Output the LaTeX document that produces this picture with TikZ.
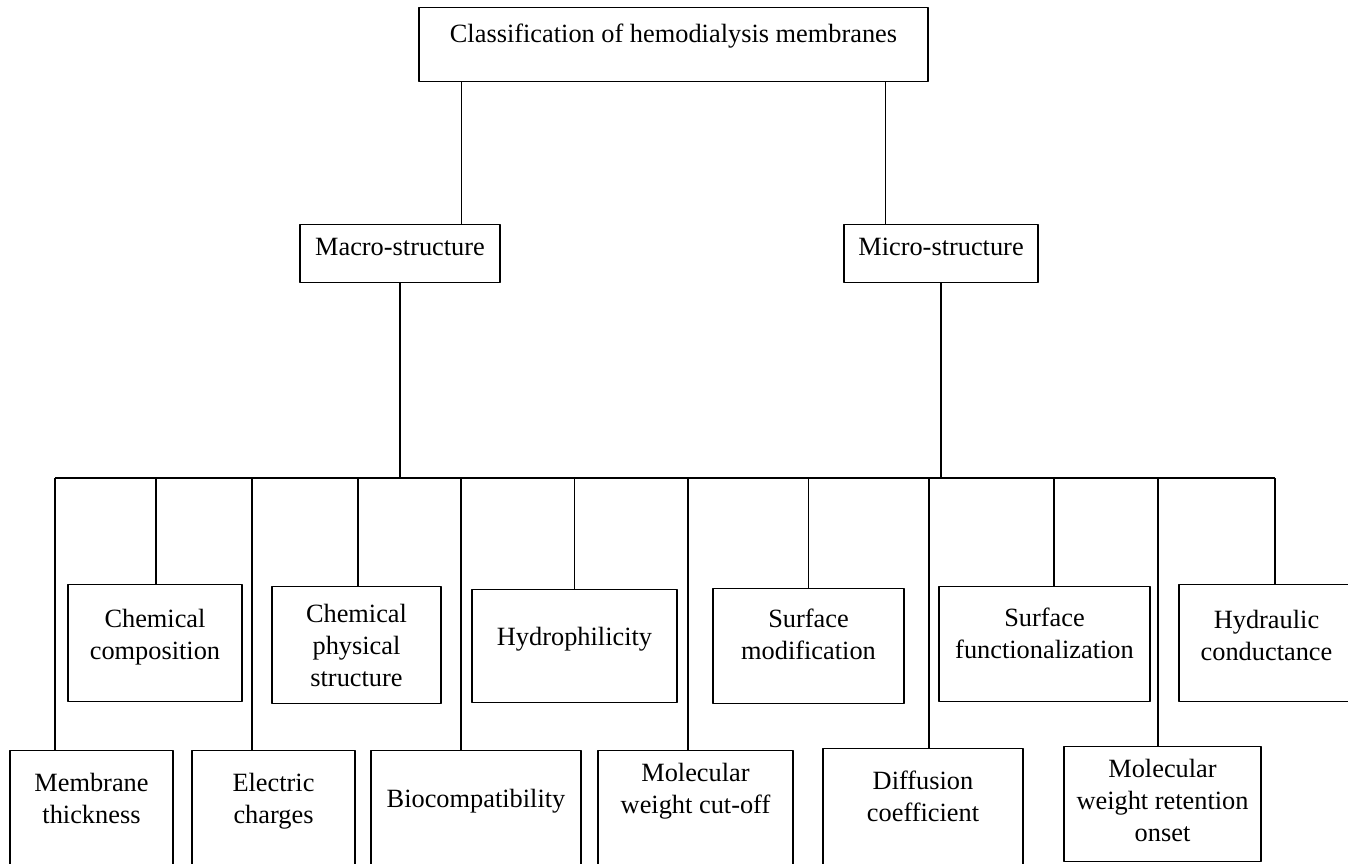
\documentclass[tikz,border=0pt]{standalone}
\usepackage{fontspec}
\setmainfont{Liberation Serif}
\newcommand{\boxfont}{\fontsize{15}{18}\selectfont}
\tikzset{
  box/.style n args={3}{draw, anchor=north, inner sep=0pt, align=center, font=\boxfont,
    minimum width=#1*0.02cm, text height=#3*0.02cm, text depth=(#2-#3)*0.02cm},
}
\begin{document}
\begin{tikzpicture}[x=0.02cm, y=-0.02cm, line width=0.8pt, line join=round]
\useasboundingbox (0,0) rectangle (1348,863);
\node[box={509}{74}{35}] (top) at (673.5,7) {Classification of hemodialysis membranes};
\node[box={200}{58}{31}] (macro) at (400,224) {Macro-structure};
\node[box={194}{58}{31}] (micro) at (941,224) {Micro-structure};
\node[box={174}{117}{74.6}] (cc) at (155,584) {Chemical\\composition};
\node[box={169}{117}{99.3}] (cp) at (356.5,586) {Chemical\\physical\\structure};
\node[box={205}{113}{56}] (hy) at (574.5,589) {Hydrophilicity};
\node[box={191}{115}{70.6}] (sm) at (808.5,588) {Surface\\modification};
\node[box={211}{115}{71.6}] (sf) at (1044.5,586) {Surface\\functionalization};
\node[box={175}{117}{75.6}] (hc) at (1266.5,584) {Hydraulic\\conductance};
\node[box={163}{140}{72.6}] (mt) at (91.5,750) {Membrane\\thickness};
\node[box={163}{140}{72.6}] (ec) at (273.5,750) {Electric\\charges};
\node[box={210}{140}{57}] (bc) at (476,750) {Biocompatibility};
\node[box={195}{140}{62.6}] (mw) at (695.5,750) {Molecular\\weight cut-off};
\node[box={200}{142}{72.6}] (dc) at (923,748) {Diffusion\\coefficient};
\node[box={197}{115}{94.3}] (mr) at (1162.5,746) {Molecular\\weight retention\\onset};
\coordinate (tl) at ([shift={(43,0)}]top.south west);
\coordinate (tr) at ([shift={(-43,0)}]top.south east);
\draw (tl) -- (tl |- macro.north);
\draw (tr) -- (tr |- micro.north);
\coordinate (bus) at (0,478);
\draw (macro.south) -- (macro.south |- bus);
\draw (micro.south) -- (micro.south |- bus);
\foreach \n/\d in {mt/-36.5, cc/1, ec/-21.5, cp/1.5, bc/-15, hy/0, mw/-7.5, sm/0, dc/6, sf/9.5, mr/-4.5, hc/8.5} {
  \coordinate (\n-in) at ([shift={(\d,0)}]\n.north);
  \draw (\n-in) -- (\n-in |- bus);
}
\draw (mt-in |- bus) -- (hc-in |- bus);
\end{tikzpicture}
\end{document}
